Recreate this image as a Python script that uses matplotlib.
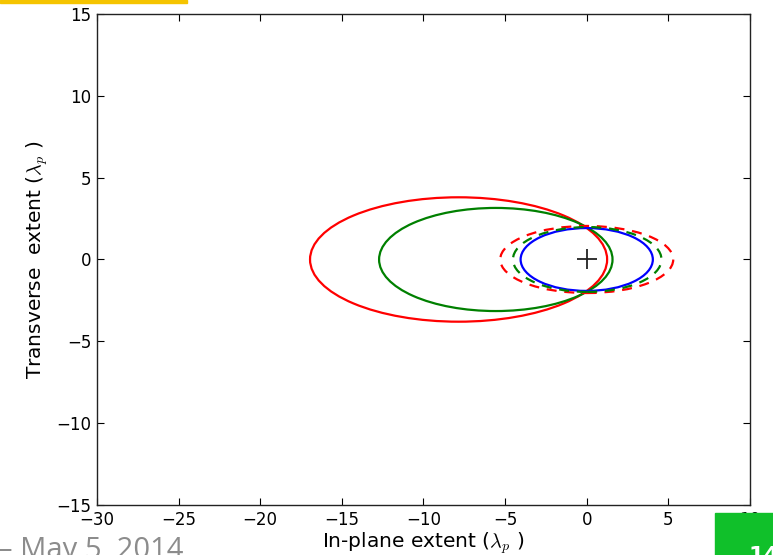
import matplotlib.pyplot as plt
from matplotlib.patches import Ellipse, Rectangle

plt.rcParams['mathtext.fontset'] = 'cm'

# ellipse centres (x), semi-axes along x and y
names = ["red solid", "green solid", "blue solid", "red dashed", "green dashed"]
centers_x = [-7.85, -5.57, 0.0, 0.0, 0.03]
semi_x = [9.1, 7.15, 4.05, 5.3, 4.55]
semi_y = [3.8, 3.15, 1.92, 2.05, 1.98]
colors = ["#ff0000", "#008000", "#0000ff", "#ff0000", "#008000"]
styles = ["-", "-", "-", "--", "--"]

fig = plt.figure(figsize=(7.73, 5.55), dpi=100)
ax = fig.add_axes([0.1255, 0.0901, 0.8447, 0.8847])

for cx, a, b, c, ls in zip(centers_x, semi_x, semi_y, colors, styles):
    e = Ellipse((cx, 0), 2 * a, 2 * b, fill=False, edgecolor=c, linewidth=1.6)
    if ls == "--":
        e.set_linestyle((0, (4.5, 3.5)))
    ax.add_patch(e)

# origin marker
ax.plot([0], [0], marker="+", color="#222222", markersize=14, markeredgewidth=1.3)

ax.set_xlim(-30, 10)
ax.set_ylim(-15, 15)
ax.set_xticks(range(-30, 11, 5))
ax.set_yticks(range(-15, 16, 5))
ax.tick_params(direction="in", top=True, right=True, length=5, labelsize=12, pad=4)
for s in ax.spines.values():
    s.set_color("#222222")
    s.set_linewidth(1.0)

ax.set_xlabel(r"In-plane extent ($\lambda_p$ )", fontsize=14.5, labelpad=1)
ax.set_ylabel(r"Transverse  extent ($\lambda_p$ )", fontsize=14.5, labelpad=5)

# slide decorations
fig.add_artist(Rectangle((0, 0.994), 187 / 773, 0.006, transform=fig.transFigure,
                         color="#f5c400", zorder=10))
fig.text(-0.003, -0.006, "\u2013 May 5, 2014", fontsize=21, color="#8c8c8c",
         family="Open Sans", ha="left", va="baseline")
fig.add_artist(Rectangle((715 / 773, 0), 1 - 715 / 773, 42 / 555,
                         transform=fig.transFigure, color="#10c02a", zorder=10))
fig.text(0.968, -0.012, "14", fontsize=16, color="white", weight="bold",
         ha="left", va="baseline", zorder=11)

fig.savefig("out.png", dpi=100)
